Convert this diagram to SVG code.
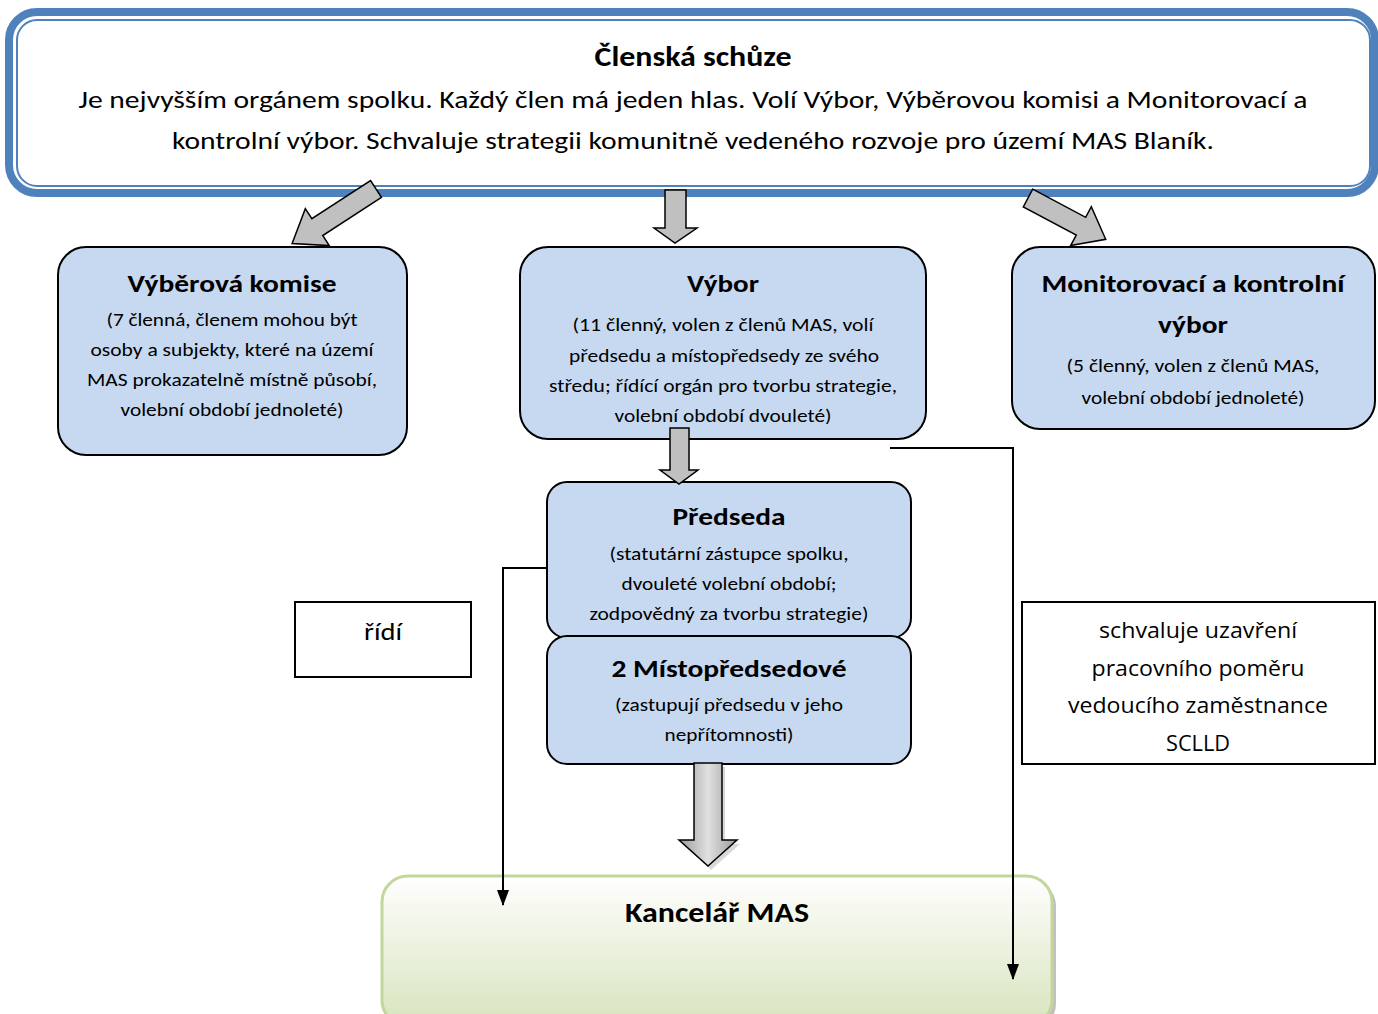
<svg xmlns="http://www.w3.org/2000/svg" width="1378" height="1014" viewBox="0 0 1378 1014">
<style>
  text { font-family: Carlito, Lato, "Liberation Sans", sans-serif; fill: #000; text-anchor: middle; }
  .t { font-weight: bold; font-size: 25px; }
  .tl { font-weight: bold; font-size: 28px; }
  .s { font-size: 18px; }
  .b { font-size: 24px; }
  .os { font-family: "Open Sans", "Liberation Sans", sans-serif; font-size: 21px; }
  .node { fill: #C6D9F1; stroke: #000; stroke-width: 2; }
  .garrow { fill: #C0C0C0; stroke: #000; stroke-width: 1.5; stroke-linejoin: miter; }
  .line { fill: none; stroke: #000; stroke-width: 2; }
  .lbl { fill: #fff; stroke: #000; stroke-width: 2; }
</style>
<defs>
  <marker id="ah" viewBox="0 0 16 12" refX="15" refY="6" markerWidth="16" markerHeight="12" markerUnits="userSpaceOnUse" orient="auto">
    <path d="M0,0 L16,6 L0,12 z" fill="#000"/>
  </marker>
  <linearGradient id="green" x1="0" y1="0" x2="0" y2="1">
    <stop offset="0" stop-color="#FFFFFF"/>
    <stop offset="0.2" stop-color="#F7F9F1"/>
    <stop offset="1" stop-color="#D7E4BD"/>
  </linearGradient>
  <linearGradient id="bigarrow" x1="0" y1="0" x2="1" y2="0">
    <stop offset="0" stop-color="#9A9A9A"/>
    <stop offset="0.5" stop-color="#E0E0E0"/>
    <stop offset="1" stop-color="#9A9A9A"/>
  </linearGradient>
  <clipPath id="vyborclip"><rect x="520" y="247" width="406" height="177"/></clipPath>
</defs>

<g id="clenska-schuze">
  <rect x="9" y="12" width="1366" height="181" rx="28" fill="#fff" stroke="#4F81BD" stroke-width="8"/>
  <rect x="17" y="20" width="1353" height="166" rx="20" fill="none" stroke="#4F81BD" stroke-width="2"/>
  <text x="693" y="66" class="tl" textLength="197" lengthAdjust="spacingAndGlyphs">Členská schůze</text>
  <text x="693" y="108" class="b" textLength="1229" lengthAdjust="spacingAndGlyphs">Je nejvyšším orgánem spolku. Každý člen má jeden hlas. Volí Výbor, Výběrovou komisi a Monitorovací a</text>
  <text x="693" y="149" class="b" textLength="1042" lengthAdjust="spacingAndGlyphs">kontrolní výbor. Schvaluje strategii komunitně vedeného rozvoje pro území MAS Blaník.</text>
</g>

<g id="vyberova-komise">
  <rect class="node" x="58" y="247" width="349" height="208" rx="28"/>
  <text x="232" y="292" class="t" textLength="209" lengthAdjust="spacingAndGlyphs">Výběrová komise</text>
  <text x="232" y="326" class="s" textLength="251" lengthAdjust="spacingAndGlyphs">(7 členná, členem mohou být</text>
  <text x="232" y="356" class="s" textLength="283" lengthAdjust="spacingAndGlyphs">osoby a subjekty, které na území</text>
  <text x="232" y="386" class="s" textLength="290" lengthAdjust="spacingAndGlyphs">MAS prokazatelně místně působí,</text>
  <text x="232" y="416" class="s" textLength="223" lengthAdjust="spacingAndGlyphs">volební období jednoleté)</text>
</g>

<g id="vybor">
  <rect class="node" x="520" y="247" width="406" height="192" rx="28"/>
  <text x="723" y="292" class="t" textLength="72" lengthAdjust="spacingAndGlyphs">Výbor</text>
  <g clip-path="url(#vyborclip)">
    <text x="723" y="331" class="s" textLength="301" lengthAdjust="spacingAndGlyphs">(11 členný, volen z členů MAS, volí</text>
    <text x="724" y="362" class="s" textLength="310" lengthAdjust="spacingAndGlyphs">předsedu a místopředsedy ze svého</text>
    <text x="723" y="392" class="s" textLength="348" lengthAdjust="spacingAndGlyphs">středu; řídící orgán pro tvorbu strategie,</text>
    <text x="723" y="422" class="s" textLength="217" lengthAdjust="spacingAndGlyphs">volební období dvouleté)</text>
  </g>
</g>

<g id="monitorovaci-vybor">
  <rect class="node" x="1012" y="247" width="363" height="182" rx="28"/>
  <text x="1193" y="292" class="t" textLength="303" lengthAdjust="spacingAndGlyphs">Monitorovací a kontrolní</text>
  <text x="1193" y="333" class="t" textLength="70" lengthAdjust="spacingAndGlyphs">výbor</text>
  <text x="1193" y="372" class="s" textLength="253" lengthAdjust="spacingAndGlyphs">(5 členný, volen z členů MAS,</text>
  <text x="1193" y="404" class="s" textLength="223" lengthAdjust="spacingAndGlyphs">volební období jednoleté)</text>
</g>

<g id="predseda">
  <rect class="node" x="547" y="482" width="364" height="156" rx="20"/>
  <text x="729" y="525" class="t" textLength="113" lengthAdjust="spacingAndGlyphs">Předseda</text>
  <text x="729" y="560" class="s" textLength="239" lengthAdjust="spacingAndGlyphs">(statutární zástupce spolku,</text>
  <text x="729" y="590" class="s" textLength="215" lengthAdjust="spacingAndGlyphs">dvouleté volební období;</text>
  <text x="729" y="620" class="s" textLength="279" lengthAdjust="spacingAndGlyphs">zodpovědný za tvorbu strategie)</text>
</g>

<g id="mistopredsedove">
  <rect class="node" x="547" y="636" width="364" height="128" rx="20"/>
  <text x="729" y="677" class="t" textLength="235" lengthAdjust="spacingAndGlyphs">2 Místopředsedové</text>
  <text x="729" y="711" class="s" textLength="228" lengthAdjust="spacingAndGlyphs">(zastupují předsedu v jeho</text>
  <text x="729" y="741" class="s" textLength="129" lengthAdjust="spacingAndGlyphs">nepřítomnosti)</text>
</g>

<g id="kancelar-mas">
  <rect x="386" y="880" width="670" height="150" rx="26" fill="#A6A6A6" opacity="0.7"/>
  <rect x="382" y="876" width="670" height="150" rx="26" fill="url(#green)" stroke="#C3D69B" stroke-width="3"/>
  <text x="717" y="922" class="tl" textLength="184" lengthAdjust="spacingAndGlyphs">Kancelář MAS</text>
</g>

<g id="ridi">
  <rect class="lbl" x="295" y="602" width="176" height="75"/>
  <text x="383" y="640" class="b" textLength="38" lengthAdjust="spacingAndGlyphs">řídí</text>
</g>

<g id="schvaluje">
  <rect class="lbl" x="1022" y="602" width="353" height="162"/>
  <text x="1198" y="638" class="os" textLength="198" lengthAdjust="spacingAndGlyphs">schvaluje uzavření</text>
  <text x="1198" y="676" class="os" textLength="213" lengthAdjust="spacingAndGlyphs">pracovního poměru</text>
  <text x="1198" y="713" class="os" textLength="260" lengthAdjust="spacingAndGlyphs">vedoucího zaměstnance</text>
  <text x="1198" y="751" class="os" textLength="64" lengthAdjust="spacingAndGlyphs">SCLLD</text>
</g>

<g id="connectors">
  <polygon class="garrow" transform="translate(376,189) rotate(147)" points="0,-10 70,-10 70,-22 100,0 70,22 70,10 0,10"/>
  <polygon class="garrow" points="665,190 686,190 686,228 697,228 675,243 654,228 665,228"/>
  <polygon class="garrow" transform="translate(1028,198) rotate(28)" points="0,-10 60,-10 60,-22 88,0 60,22 60,10 0,10"/>
  <polygon class="garrow" points="670,428 689,428 689,470 698,470 679,484 660,470 670,470"/>
  <polygon fill="#BFBFBF" opacity="0.6" points="697,767 725,767 725,844 740,844 711,870 682,844 697,844"/>
  <polygon fill="url(#bigarrow)" stroke="#000" stroke-width="1.5" points="694,763 722,763 722,840 737,840 708,866 679,840 694,840"/>
  <polyline class="line" points="548,568 503,568 503,905" marker-end="url(#ah)"/>
  <polyline class="line" points="890,448 1013,448 1013,979" marker-end="url(#ah)"/>
</g>
</svg>
